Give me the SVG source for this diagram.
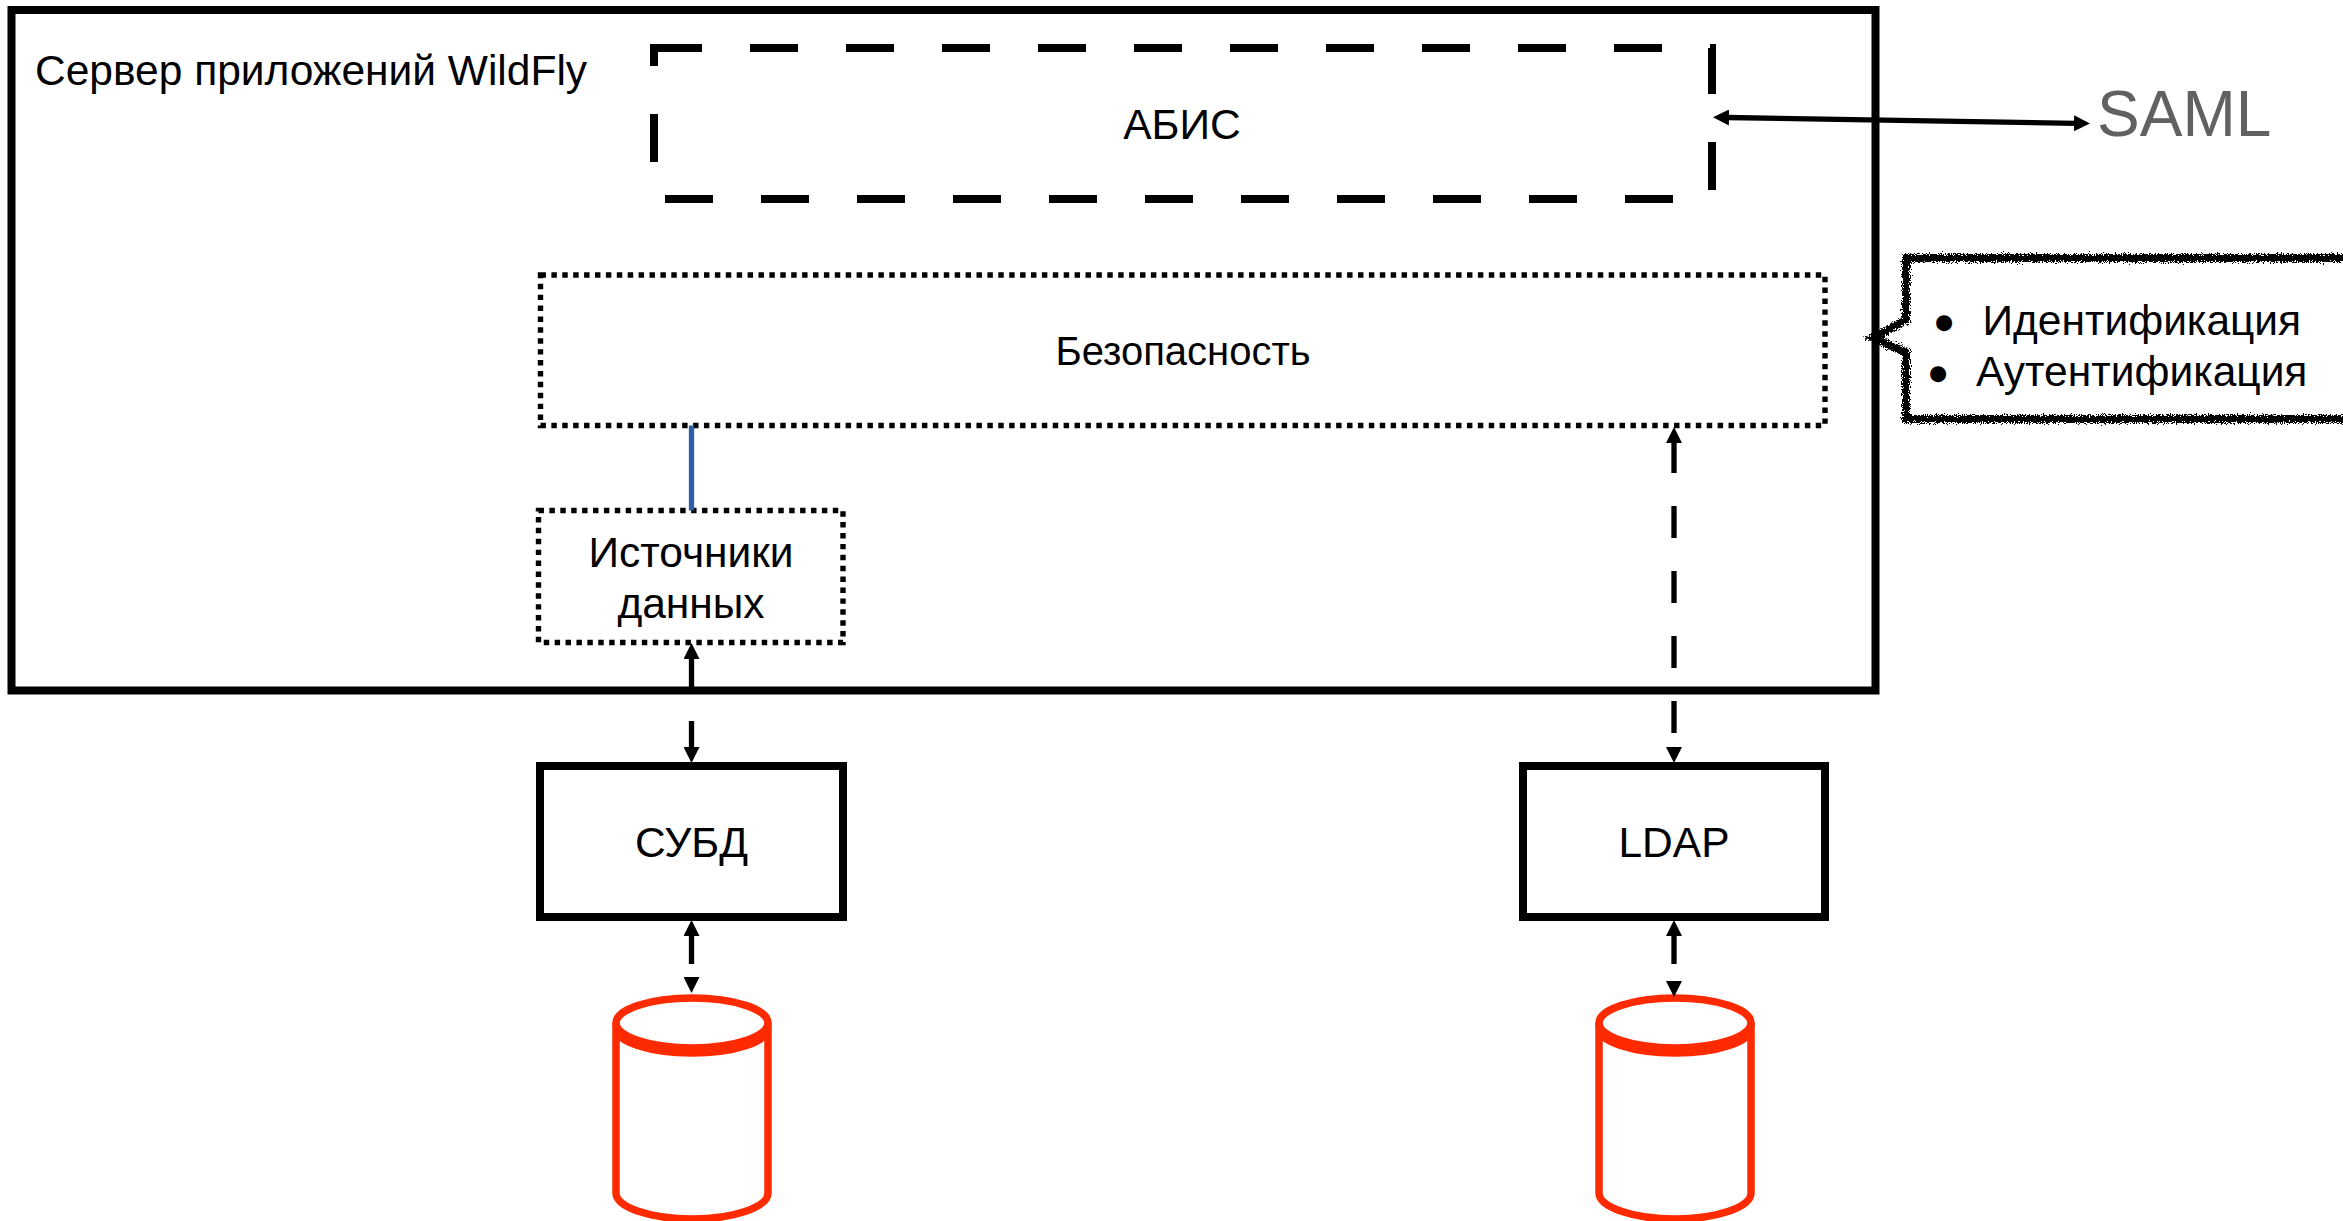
<svg xmlns="http://www.w3.org/2000/svg" width="2343" height="1221" viewBox="0 0 2343 1221">
<style>
text{font-family:"Liberation Sans",Arial,sans-serif;font-size:42.5px;fill:#000}
.c{text-anchor:middle}
.box{fill:none;stroke:#000;stroke-width:8}
.dash{fill:none;stroke:#000;stroke-width:8;stroke-dasharray:48 48}
.dot{fill:none;stroke:#000;stroke-width:5.4;stroke-dasharray:5.45 5.45}
.line{fill:none;stroke:#000;stroke-width:5.3}
.arr{marker-start:url(#head);marker-end:url(#head)}
.cyl{fill:none;stroke:#ff2a00;stroke-width:7.5}
.bul{font-size:42px;stroke:#000;stroke-width:4.5}
</style>
<defs>
<marker id="head" markerUnits="userSpaceOnUse" markerWidth="16" markerHeight="16" viewBox="0 0 16 16" refX="2" refY="8" orient="auto-start-reverse"><path d="M0 0L16 8L0 16Z" fill="#000"/></marker>
<filter id="rough" filterUnits="userSpaceOnUse" x="1850" y="235" width="520" height="205"><feTurbulence type="fractalNoise" baseFrequency="0.85" numOctaves="2" seed="4" result="n"/><feDisplacementMap in="SourceGraphic" in2="n" scale="9" xChannelSelector="R" yChannelSelector="G"/></filter>
<g id="cylinder"><ellipse class="cyl" cx="0" cy="1023" rx="76" ry="25"/><path class="cyl" d="M-76 1023V1193C-76 1207 -42 1219 0 1219C42 1219 76 1207 76 1193V1023M-76 1028C-76 1042 -42 1053 0 1053C42 1053 76 1042 76 1028"/></g>
</defs>
<rect width="2343" height="1221" fill="#fff"/>
<g id="server"><rect class="box" x="11.5" y="10" width="1864" height="680.5"/><text x="35" y="85">Сервер приложений WildFly</text></g>
<g id="abis"><rect class="dash" x="654" y="48" width="1058" height="151"/><text class="c" x="1182" y="139">АБИС</text></g>
<g id="security"><rect class="dot" x="540.5" y="275" width="1284.5" height="150.5"/><text class="c" x="1183" y="365" style="font-size:40px">Безопасность</text></g>
<g id="datasources"><rect class="dot" x="538.5" y="510.5" width="304.5" height="132"/><text class="c" x="691" y="567">Источники</text><text class="c" x="691" y="618">данных</text></g>
<g id="dbms"><rect class="box" x="540" y="766" width="303" height="151"/><text class="c" x="691.5" y="857">СУБД</text></g>
<g id="ldap"><rect class="box" x="1523" y="766" width="302" height="151"/><text class="c" x="1674" y="857">LDAP</text></g>
<use id="db1" href="#cylinder" x="692"/>
<use id="db2" href="#cylinder" x="1675"/>
<g id="saml"><text x="2097" y="136" style="font-size:64px;fill:#616161">SAML</text></g>
<g id="connectors">
<path d="M691.5 425.5V510.5" fill="none" stroke="#2e5ea6" stroke-width="5.3"/>
<path class="line arr" d="M691.5 657V749" stroke-dasharray="34 30 30"/>
<path class="line arr" d="M691.5 934V979" stroke-dasharray="30 100"/>
<path class="line arr" d="M1674 441V749" stroke-dasharray="32 33"/>
<path class="line arr" d="M1674 934V983" stroke-dasharray="30 100"/>
<path class="line arr" d="M1727 117.5L2076 123.3"/>
</g>
<g id="callout">
<path d="M2342.5 263V413" fill="none" stroke="#ccc" stroke-width="1"/>
<path d="M2360 258H1906V320L1873 338L1906 352V419H2360" fill="#fff" stroke="#000" stroke-width="8" filter="url(#rough)"/>
<text x="1982.5" y="335">Идентификация</text>
<text x="1976" y="386">Аутентификация</text>
<text class="c bul" x="1944" y="337">•</text>
<text class="c bul" x="1938" y="388">•</text>
</g>
</svg>
